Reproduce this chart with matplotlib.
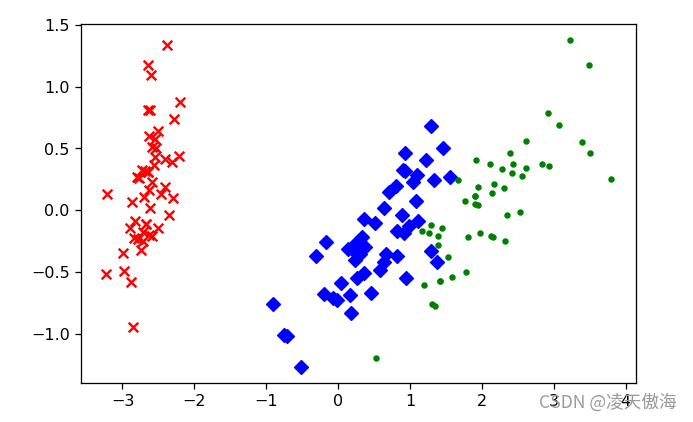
import matplotlib
matplotlib.use("Agg")
import matplotlib.pyplot as plt
import numpy as np

# PCA projection of the three groups
setosa_x = [-2.684, -2.714, -2.889, -2.745, -2.729, -2.281, -2.821, -2.626, -2.886, -2.672,
            -2.507, -2.613, -2.787, -3.225, -2.644, -2.386, -2.623, -2.648, -2.199, -2.587,
            -2.311, -2.543, -3.216, -2.303, -2.356, -2.508, -2.469, -2.562, -2.640, -2.633,
            -2.587, -2.410, -2.648, -2.597, -2.673, -2.867, -2.625, -2.800, -2.980, -2.590,
            -2.770, -2.849, -2.998, -2.406, -2.209, -2.715, -2.538, -2.840, -2.542, -2.704]
setosa_y = [0.319, -0.177, -0.145, -0.318, 0.327, 0.741, -0.089, 0.163, -0.578, -0.114,
            0.645, 0.015, -0.235, -0.511, 1.178, 1.338, 0.811, 0.312, 0.873, 0.514,
            0.391, 0.433, 0.134, 0.098, -0.037, -0.146, 0.131, 0.368, 0.312, -0.196,
            -0.204, 0.411, 0.814, 1.093, -0.114, 0.069, 0.599, 0.269, -0.488, 0.229,
            0.264, -0.941, -0.342, 0.189, 0.437, -0.250, 0.503, -0.227, 0.579, 0.107]

versicolor_x = [1.285, 0.932, 1.464, 0.181, 1.087, 0.640, 1.095, -0.749, 1.043, -0.010,
                -0.511, 0.511, 0.262, 0.984, -0.174, 0.928, 0.660, 0.236, 0.944, 0.045,
                1.116, 0.357, 1.298, 0.921, 0.714, 0.900, 1.332, 1.558, 0.813, -0.306,
                -0.068, -0.190, 0.136, 1.380, 0.589, 0.807, 1.220, 0.815, 0.246, 0.166,
                0.464, 0.891, 0.231, -0.705, 0.357, 0.332, 0.376, 0.642, -0.907, 0.299]
versicolor_y = [0.685, 0.318, 0.504, -0.826, 0.075, -0.418, 0.284, -1.004, 0.229, -0.723,
                -1.265, -0.104, -0.550, -0.125, -0.255, 0.467, -0.353, -0.333, -0.543, -0.584,
                -0.084, -0.069, -0.328, -0.183, 0.149, 0.329, 0.245, 0.267, -0.163, -0.368,
                -0.705, -0.680, -0.314, -0.421, -0.484, 0.195, 0.408, -0.372, -0.268, -0.682,
                -0.670, -0.034, -0.404, -1.012, -0.504, -0.212, -0.293, 0.018, -0.756, -0.349]

virginica_x = [2.531, 1.415, 2.617, 1.971, 2.350, 3.397, 0.521, 2.933, 2.321, 2.917,
               1.662, 1.804, 2.165, 1.344, 1.585, 1.905, 1.949, 3.488, 3.795, 1.300,
               2.428, 1.199, 3.500, 1.388, 2.276, 2.614, 1.258, 1.291, 2.123, 2.388,
               2.842, 3.231, 2.159, 1.443, 1.780, 3.077, 2.144, 1.905, 1.169, 2.107,
               2.314, 1.922, 1.415, 2.563, 2.419, 1.944, 1.527, 1.764, 1.901, 1.390]
virginica_y = [-0.010, -0.575, 0.343, -0.180, -0.040, 0.551, -1.193, 0.356, -0.244, 0.783,
               0.242, -0.216, 0.216, -0.776, -0.539, 0.119, 0.041, 1.172, 0.253, -0.761,
               0.378, -0.606, 0.460, -0.204, 0.333, 0.558, -0.180, -0.117, -0.211, 0.465,
               0.375, 1.374, -0.218, -0.144, -0.500, 0.688, 0.140, 0.049, -0.165, 0.372,
               0.183, 0.409, -0.575, 0.278, 0.305, 0.188, -0.375, 0.079, 0.117, -0.283]

fig = plt.figure(figsize=(6.0, 3.654), dpi=115.5)
ax = fig.add_axes([0.117, 0.092, 0.801, 0.851])

ax.scatter(setosa_x, setosa_y, c="r", marker="x")
ax.scatter(versicolor_x, versicolor_y, c="b", marker="D")
ax.scatter(virginica_x, virginica_y, c="g", marker=".")

# 水印（原图即与刻度 3、4 重叠）
fig.text(0.977, 0.047, "CSDN @凌天傲海", ha="right", va="center", fontsize=11,
         color="#9a9a9a", family=["Noto Sans CJK SC", "DejaVu Sans"])

fig.savefig("out.png", dpi=115.5)
